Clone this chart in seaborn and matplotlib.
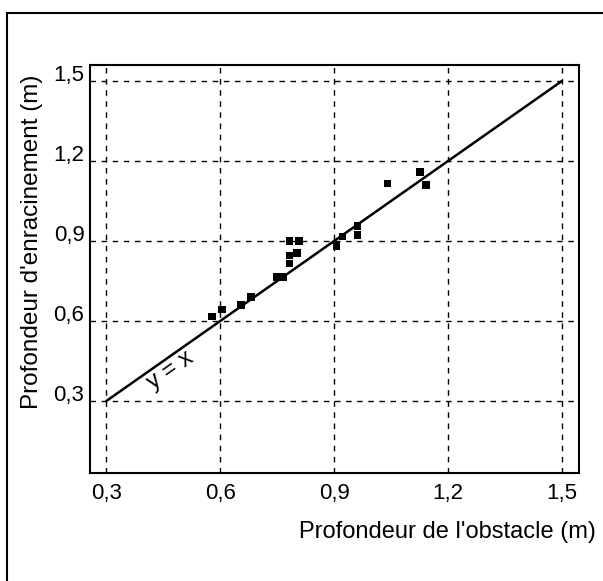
import matplotlib
matplotlib.use("Agg")
import matplotlib.pyplot as plt
import matplotlib.transforms as mtransforms
from matplotlib.patches import Rectangle
import seaborn as sns
import pandas as pd

# Data
obstacle_depth = [0.578, 0.605, 0.655, 0.681, 0.750, 0.766, 0.782, 0.782, 0.782,
                  0.802, 0.808, 0.906, 0.922, 0.962, 0.962, 1.041, 1.126, 1.142]
rooting_depth = [0.617, 0.643, 0.661, 0.690, 0.764, 0.764, 0.815, 0.845, 0.900,
                 0.854, 0.900, 0.881, 0.917, 0.957, 0.922, 1.115, 1.159, 1.111]
identity_x = [0.3, 1.5]
identity_y = [0.3, 1.5]
ticks = [0.3, 0.6, 0.9, 1.2, 1.5]
tick_labels = ["0,3", "0,6", "0,9", "1,2", "1,5"]

sns.set_style("white")
plt.rcParams['font.family'] = ['Liberation Sans', 'DejaVu Sans']
plt.rcParams['text.color'] = 'black'

W, H = 603, 581
fig = plt.figure(figsize=(W / 100, H / 100), dpi=100)
ax = fig.add_axes([90 / W, 1 - 473 / H, (579 - 90) / W, (473 - 65) / H])

df_pts = pd.DataFrame({"x": obstacle_depth, "y": rooting_depth})
df_line = pd.DataFrame({"x": identity_x, "y": identity_y})

sns.lineplot(data=df_line, x="x", y="y", ax=ax, color="black", lw=1.8, zorder=3)
sns.scatterplot(data=df_pts, x="x", y="y", ax=ax, marker="s", s=30, color="black",
                edgecolor="none", zorder=4)

ax.set_xlim(0.257, 1.545)
ax.set_ylim(0.03, 1.56)
ax.set_xticks(ticks)
ax.set_xticklabels(tick_labels)
ax.set_yticks(ticks)
ax.set_yticklabels(tick_labels)
ax.tick_params(length=0, labelsize=16, colors="black")
ax.tick_params(axis="x", pad=7)
ax.tick_params(axis="y", pad=4)
ax.grid(True, color="black", linestyle=(0, (4, 4)), lw=1.0)
for s in ax.spines.values():
    s.set_visible(True)
    s.set_color("black")
    s.set_linewidth(1.5)
ax.set_xlabel("")
ax.set_ylabel("")

offset = mtransforms.ScaledTranslation(0, 6 / 72, fig.dpi_scale_trans)
for lab in ax.get_yticklabels():
    lab.set_transform(lab.get_transform() + offset)

ax.text(0.47, 0.415, "y = x", rotation=35, rotation_mode="anchor", fontsize=17,
        ha="center", va="center", transform=ax.transData, color="black")

fig.text(596 / W, 1 - 532 / H, "Profondeur de l'obstacle (m)", ha="right",
         va="center", fontsize=17, color="black")
fig.text(32 / W, 1 - 242 / H, "Profondeur d'enracinement (m)", rotation=90,
         ha="center", va="center", fontsize=17.5, color="black")

fig.patches.append(Rectangle((7 / W, -0.1), 1.2, 1 - 13 / H + 0.1, transform=fig.transFigure,
                             fill=False, edgecolor="black", lw=1.5))

fig.savefig("out.png", dpi=100)
